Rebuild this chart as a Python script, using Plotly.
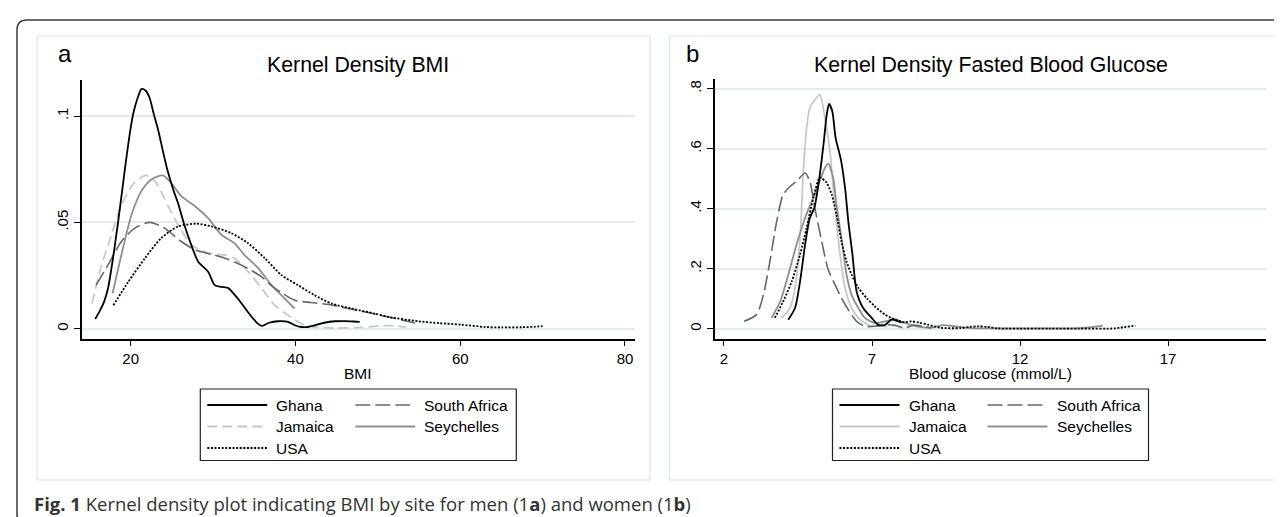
import plotly.graph_objects as go

W, H = 1282, 517

# ---------------- data: panel a (BMI, men) ----------------
countries = ["Ghana", "South Africa", "Jamaica", "Seychelles", "USA"]

bmi_ghana_x = [15.7, 16.2, 16.8, 17.25, 17.65, 18.0, 18.5, 19.0, 19.4, 19.9, 20.3, 20.8, 21.3, 21.8, 22.3,
               22.8, 23.3, 24.0, 24.5, 25.2, 25.75, 26.5, 27.2, 28.2, 29.4, 30.2, 31.0, 31.8, 33.0, 34.0,
               34.7, 35.4, 35.9, 36.8, 37.9, 39.1, 40.0, 40.7, 41.5, 42.3, 43.5, 44.8, 46.0, 47.0, 47.8]
bmi_ghana_y = [0.0046, 0.008, 0.013, 0.019, 0.028, 0.037, 0.051, 0.066, 0.078, 0.092, 0.101, 0.108, 0.1127,
               0.1120, 0.1085, 0.101, 0.094, 0.082, 0.074, 0.065, 0.059, 0.049, 0.041, 0.0315, 0.0268, 0.0205,
               0.0197, 0.0192, 0.0142, 0.009, 0.0055, 0.0025, 0.0013, 0.0028, 0.0035, 0.0032, 0.0015, 0.0008,
               0.0008, 0.0016, 0.0028, 0.0035, 0.0036, 0.0034, 0.0032]

bmi_safrica_x = [15.8, 17.25, 18.87, 20.5, 22.3, 24.1, 26.15, 27.8, 29.8, 31.8, 33.8, 35.9, 37.5, 39.9,
                 41.9, 44.0, 46.4, 48.8, 51.3, 53.0, 54.5]
bmi_safrica_y = [0.0205, 0.030, 0.041, 0.0473, 0.050, 0.0473, 0.041, 0.037, 0.035, 0.0327, 0.0292, 0.0244,
                 0.019, 0.0134, 0.0123, 0.0114, 0.0095, 0.0076, 0.0055, 0.0040, 0.0027]

bmi_jamaica_x = [15.3, 16.4, 17.4, 18.87, 20.5, 21.9, 23.1, 24.5, 25.75, 27.4, 29.4, 31.4, 32.6, 34.25,
                 35.9, 37.5, 39.1, 40.7, 42.3, 44.8, 48.0, 50.4, 52.0, 53.4]
bmi_jamaica_y = [0.0118, 0.029, 0.041, 0.058, 0.069, 0.0721, 0.0686, 0.058, 0.0489, 0.0394, 0.0355, 0.0347,
                 0.0331, 0.0268, 0.019, 0.011, 0.0063, 0.0024, 0.0008, 0.0003, 0.0006, 0.0014, 0.0014, 0.0008]

bmi_seychelles_x = [17.8, 18.87, 20.1, 21.3, 22.5, 23.9, 24.9, 26.15, 27.8, 29.4, 31.0, 32.6, 33.8, 35.5,
                    37.1, 38.7, 39.9]
bmi_seychelles_y = [0.0166, 0.0347, 0.0536, 0.0647, 0.0702, 0.0721, 0.0686, 0.0623, 0.0576, 0.052, 0.0442,
                    0.0402, 0.0347, 0.0284, 0.0205, 0.0142, 0.0095]

bmi_usa_x = [17.9, 19.7, 21.7, 23.7, 25.75, 28.0, 29.8, 32.2, 34.25, 36.3, 38.3, 40.3, 42.3, 44.4, 46.8,
             49.6, 51.3, 54.9, 57.5, 60.1, 63.0, 65.0, 67.5, 69.0, 70.0]
bmi_usa_y = [0.011, 0.022, 0.033, 0.0426, 0.0481, 0.0494, 0.0481, 0.045, 0.0402, 0.0331, 0.0252, 0.0205,
             0.0158, 0.0118, 0.0095, 0.0071, 0.0055, 0.0035, 0.0026, 0.0019, 0.0008, 0.0006, 0.0007, 0.0009,
             0.0012]

# ---------------- data: panel b (fasted blood glucose, women) ----------------
glu_ghana_x = [4.17, 4.4, 4.57, 4.74, 4.9, 5.05, 5.19, 5.36, 5.47, 5.55, 5.66, 5.77, 5.95, 6.09, 6.2, 6.34,
               6.48, 6.7, 6.99, 7.21, 7.44, 7.66, 7.89, 8.0]
glu_ghana_y = [0.030, 0.069, 0.158, 0.280, 0.369, 0.402, 0.48, 0.613, 0.713, 0.749, 0.724, 0.636, 0.563,
               0.469, 0.358, 0.247, 0.124, 0.069, 0.036, 0.013, 0.013, 0.030, 0.0246, 0.02]

glu_safrica_x = [2.68, 3.1, 3.33, 3.55, 3.78, 4.0, 4.23, 4.45, 4.74, 4.9, 5.07, 5.3, 5.52, 5.75, 5.97, 6.2,
                 6.48, 6.76, 7.1, 7.44, 7.78, 8.1, 8.4, 8.7, 9.0]
glu_safrica_y = [0.0246, 0.047, 0.113, 0.224, 0.358, 0.447, 0.474, 0.491, 0.519, 0.491, 0.402, 0.291, 0.197,
                 0.147, 0.102, 0.063, 0.0246, 0.008, 0.008, 0.013, 0.011, 0.002, 0.012, 0.008, 0.002]

glu_jamaica_x = [3.95, 4.23, 4.4, 4.57, 4.68, 4.79, 4.9, 5.07, 5.24, 5.41, 5.58, 5.69, 5.8, 5.92, 6.09, 6.31,
                 6.54, 6.76, 6.99, 7.2, 7.5]
glu_jamaica_y = [0.036, 0.069, 0.136, 0.302, 0.524, 0.669, 0.736, 0.763, 0.78, 0.702, 0.591, 0.469, 0.358,
                 0.247, 0.136, 0.069, 0.036, 0.019, 0.008, 0.01, 0.006]

glu_seychelles_x = [3.61, 3.9, 4.17, 4.45, 4.74, 4.96, 5.19, 5.41, 5.52, 5.69, 5.8, 5.97, 6.14, 6.31, 6.54,
                    6.76, 7.1, 7.44, 7.78, 8.1, 8.5, 9.0, 9.4, 9.8, 10.3, 11.0, 12.0, 13.0, 14.0, 14.5, 14.8]
glu_seychelles_y = [0.036, 0.091, 0.18, 0.28, 0.369, 0.424, 0.48, 0.536, 0.55, 0.502, 0.413, 0.302, 0.18,
                    0.113, 0.069, 0.036, 0.019, 0.0246, 0.032, 0.019, 0.008, 0.004, 0.012, 0.008, 0.002, 0.001,
                    0.001, 0.001, 0.002, 0.006, 0.010]

glu_usa_x = [3.72, 4.0, 4.29, 4.57, 4.79, 5.02, 5.24, 5.47, 5.64, 5.8, 5.97, 6.14, 6.31, 6.54, 6.82, 7.1,
             7.44, 7.78, 8.1, 8.33, 8.6, 8.89, 9.33, 10.0, 10.3, 10.6, 10.9, 11.26, 12.0, 13.0, 14.0, 15.2,
             15.4, 15.9]
glu_usa_y = [0.036, 0.091, 0.158, 0.247, 0.336, 0.436, 0.504, 0.486, 0.447, 0.38, 0.291, 0.224, 0.18, 0.136,
             0.102, 0.074, 0.047, 0.030, 0.022, 0.0245, 0.02, 0.0135, 0.003, 0.002, 0.006, 0.008, 0.006, 0.001,
             0.0005, 0.0005, 0.0005, 0.001, 0.004, 0.010]

# tick labels
bmi_xticks = [20, 40, 60, 80]
bmi_yticks = [0, 0.05, 0.1]
bmi_yticktext = ["0", ".05", ".1"]
glu_xticks = [2, 7, 12, 17]
glu_yticks = [0, 0.2, 0.4, 0.6, 0.8]
glu_yticktext = ["0", ".2", ".4", ".6", ".8"]

# ---------------- styles ----------------
colors = {"Ghana": "#000000", "South Africa": "#676767", "Jamaica": "#c8c8c8",
          "Seychelles": "#8e8e8e", "USA": "#000000"}
widths = {"Ghana": 1.8, "South Africa": 1.6, "Jamaica": 1.8, "Seychelles": 1.8, "USA": 1.8}
dash_a = {"Ghana": "solid", "South Africa": "15px,5px", "Jamaica": "10px,5px",
          "Seychelles": "solid", "USA": "2px,1.6px"}
dash_b = dict(dash_a, Jamaica="solid")

series_a = {"Ghana": (bmi_ghana_x, bmi_ghana_y), "South Africa": (bmi_safrica_x, bmi_safrica_y),
            "Jamaica": (bmi_jamaica_x, bmi_jamaica_y), "Seychelles": (bmi_seychelles_x, bmi_seychelles_y),
            "USA": (bmi_usa_x, bmi_usa_y)}
series_b = {"Ghana": (glu_ghana_x, glu_ghana_y), "South Africa": (glu_safrica_x, glu_safrica_y),
            "Jamaica": (glu_jamaica_x, glu_jamaica_y), "Seychelles": (glu_seychelles_x, glu_seychelles_y),
            "USA": (glu_usa_x, glu_usa_y)}

draw_order = ["Jamaica", "Seychelles", "South Africa", "USA", "Ghana"]


def px(x):
    return x / W


def py(y):
    return 1 - y / H


FONT = "Liberation Sans, Arial, Helvetica, sans-serif"

fig = go.Figure()
for name in draw_order:
    xs, ys = series_a[name]
    fig.add_trace(go.Scatter(x=xs, y=ys, mode="lines", name=name, xaxis="x", yaxis="y", showlegend=False,
                             line=dict(color=colors[name], width=widths[name], dash=dash_a[name],
                                       shape="spline", smoothing=0.7)))
for name in draw_order:
    xs, ys = series_b[name]
    fig.add_trace(go.Scatter(x=xs, y=ys, mode="lines", name=name, xaxis="x2", yaxis="y2", showlegend=False,
                             line=dict(color=colors[name], width=widths[name], dash=dash_b[name],
                                       shape="spline", smoothing=0.7)))

axis_common = dict(showline=True, linecolor="black", linewidth=1.5, ticks="outside", ticklen=6,
                   tickwidth=1.3, tickcolor="black", zeroline=False, mirror=False,
                   tickfont=dict(family=FONT, size=15, color="black"))
grid = dict(showgrid=True, gridcolor="#e2ebee", gridwidth=1.5)

fig.update_layout(
    width=W, height=H, margin=dict(l=0, r=0, t=0, b=0),
    paper_bgcolor="white", plot_bgcolor="white", showlegend=False,
    xaxis=dict(domain=[px(74), px(626.7)], range=[14.09, 81.18], tickvals=bmi_xticks, showgrid=False,
               anchor="y", **axis_common),
    yaxis=dict(domain=[py(330.7), py(71.7)], range=[-0.0047, 0.1171], tickvals=bmi_yticks,
               ticktext=bmi_yticktext, tickangle=-90, anchor="x", **grid, **axis_common),
    xaxis2=dict(domain=[px(706.7), px(1258.3)], range=[1.686, 20.32], tickvals=glu_xticks, showgrid=False,
                anchor="y2", **axis_common),
    yaxis2=dict(domain=[py(330.7), py(70.7)], range=[-0.0333, 0.8333], tickvals=glu_yticks,
                ticktext=glu_yticktext, tickangle=-90, anchor="x2", **grid, **axis_common),
)

shapes = []
annotations = []

# outer rounded frame
r = 10
path = (f"M {px(1300)},{py(12)} L {px(9 + r)},{py(12)} Q {px(9)},{py(12)} {px(9)},{py(12 + r)} "
        f"L {px(9)},{py(516 - r)} Q {px(9)},{py(516)} {px(9 + r)},{py(516)} L {px(1300)},{py(516)}")
shapes.append(dict(type="path", xref="paper", yref="paper", path=path,
                   line=dict(color="#3a3a3a", width=1.5), layer="below"))

# panel frames
for (x0, x1) in [(29.3, 642), (661.7, 1275)]:
    shapes.append(dict(type="rect", xref="paper", yref="paper", x0=px(x0), x1=px(x1), y0=py(472), y1=py(28.3),
                       line=dict(color="#e3ecee", width=1.5), layer="below"))

# titles, panel letters, axis titles
for cx, title, letter, letter_x, xlabel in [(350.3, "Kernel Density BMI", "a", 56.5, "BMI"),
                                             (982.5, "Kernel Density Fasted Blood Glucose", "b", 684.5,
                                              "Blood glucose (mmol/L)")]:
    annotations.append(dict(xref="paper", yref="paper", x=px(cx), y=py(57), text=title, showarrow=False,
                            xanchor="center", yanchor="middle", font=dict(family=FONT, size=21.3, color="black")))
    annotations.append(dict(xref="paper", yref="paper", x=px(letter_x), y=py(45.5), text=letter,
                            showarrow=False, xanchor="center", yanchor="middle",
                            font=dict(family=FONT, size=24, color="black")))
    annotations.append(dict(xref="paper", yref="paper", x=px(cx), y=py(365.5), text=xlabel, showarrow=False,
                            xanchor="center", yanchor="middle", font=dict(family=FONT, size=15.5, color="black")))

# legends
legend_slots = {"Ghana": (0, 0), "South Africa": (1, 0), "Jamaica": (0, 1), "Seychelles": (1, 1), "USA": (0, 2)}
row_y = [397, 418.5, 440]
for bx0, dashes in [(192.3, dash_a), (824.5, dash_b)]:
    shapes.append(dict(type="rect", xref="paper", yref="paper", x0=px(bx0), x1=px(bx0 + 316), y0=py(452.5),
                       y1=py(381), line=dict(color="#222222", width=1.2), fillcolor="white"))
    for name in countries:
        col, row = legend_slots[name]
        lx0 = bx0 + (7 if col == 0 else 155)
        yy = row_y[row]
        shapes.append(dict(type="line", xref="paper", yref="paper", x0=px(lx0), x1=px(lx0 + 60),
                           y0=py(yy), y1=py(yy),
                           line=dict(color=colors[name], width=widths[name], dash=dashes[name])))
        annotations.append(dict(xref="paper", yref="paper", x=px(lx0 + 67), y=py(yy), text=name,
                                showarrow=False, xanchor="left", yanchor="middle",
                                font=dict(family=FONT, size=15.5, color="black")))

# caption
annotations.append(dict(xref="paper", yref="paper", x=px(24), y=py(495), showarrow=False, xanchor="left",
                        yanchor="middle",
                        text="<b>Fig. 1</b> Kernel density plot indicating BMI by site for men (1<b>a</b>) "
                             "and women (1<b>b</b>)",
                        font=dict(family="Open Sans, Noto Sans, sans-serif", size=18.5, color="#333333")))

fig.update_layout(shapes=shapes, annotations=annotations)
fig.write_html("out.html")
